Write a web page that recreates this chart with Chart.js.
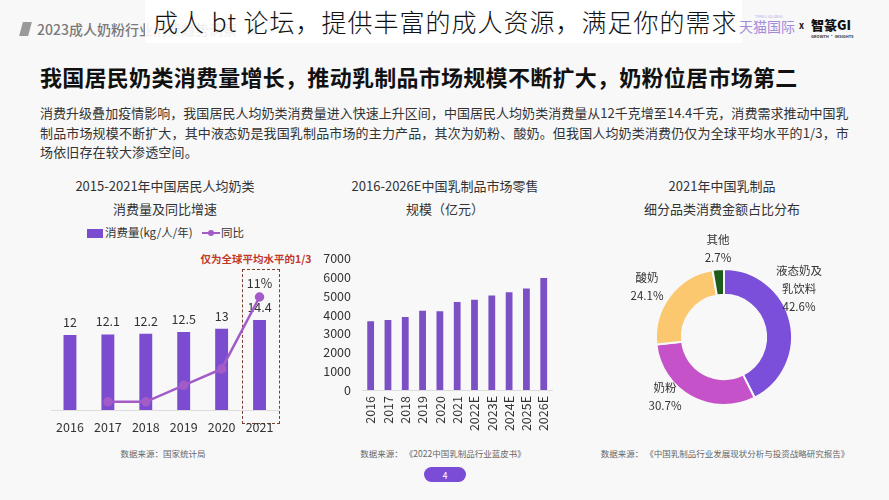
<!DOCTYPE html>
<html><head><meta charset="utf-8">
<script src="https://cdn.jsdelivr.net/npm/chart.js@4.4.0/dist/chart.umd.min.js"></script>
<style>
html,body{margin:0;padding:0;}
body{width:889px;height:500px;background:#f8f8f9;position:relative;overflow:hidden;font-family:"Noto Sans CJK SC","Noto Sans",sans-serif;color:#333;}
.t{position:absolute;white-space:nowrap;line-height:1;transform:translate(-50%,-50%);}
.l{position:absolute;white-space:nowrap;line-height:1;transform:translate(0,-50%);}
.cv{position:absolute;}
.ttl{font-size:13px;color:#333;}
.src{font-size:8.5px;color:#666;}
.dl{font-size:11.5px;color:#333;text-align:center;line-height:18px;}
</style></head>
<body>
<!-- header -->
<div style="position:absolute;left:21px;top:22px;width:9px;height:14px;background:#9a9a9a;transform:skewX(-15deg);"></div>
<div class="l" style="left:37px;top:29px;font-size:14px;color:#7a7a7a;font-weight:500;">2023成人奶粉行业消费趋势洞察</div>
<div style="position:absolute;left:248px;top:23px;width:8px;height:12px;background:#aaa;"></div>
<div style="position:absolute;left:145px;top:0;width:597px;height:43px;background:rgba(255,255,255,0.88);"></div>
<div class="l" style="left:153px;top:21px;font-size:25px;color:#111;font-weight:300;letter-spacing:1px;">成人 bt 论坛，提供丰富的成人资源，满足你的需求</div>
<div class="l" style="left:755px;top:16px;font-size:4px;color:#b9a7e0;">TMALL GLOBAL</div>
<div class="l" style="left:739px;top:26px;font-size:14px;color:#a38bd9;">天猫国际</div>
<div class="l" style="left:799px;top:25px;font-size:9px;color:#111;font-weight:700;">x</div>
<div class="l" style="left:811px;top:24px;font-size:13px;color:#111;font-weight:900;">智篆GI</div>
<div class="l" style="left:811px;top:36px;font-size:4px;color:#333;font-weight:700;">GROWTH · INSIGHTS</div>

<!-- title -->
<div class="l" id="mainTitle" style="left:40px;top:76px;font-size:22px;color:#111;font-weight:700;letter-spacing:0.28px;">我国居民奶类消费量增长，推动乳制品市场规模不断扩大，奶粉位居市场第二</div>
<div class="l" style="left:40px;top:112px;font-size:13px;color:#333;letter-spacing:0.03px;">消费升级叠加疫情影响，我国居民人均奶类消费量进入快速上升区间，中国居民人均奶类消费量从12千克增至14.4千克，消费需求推动中国乳</div>
<div class="l" style="left:40px;top:132px;font-size:13px;color:#333;letter-spacing:0.15px;">制品市场规模不断扩大，其中液态奶是我国乳制品市场的主力产品，其次为奶粉、酸奶。但我国人均奶类消费仍仅为全球平均水平的1/3，市</div>
<div class="l" style="left:40px;top:151px;font-size:13px;color:#333;letter-spacing:0.15px;">场依旧存在较大渗透空间。</div>

<!-- chart titles -->
<div class="t ttl" style="left:165px;top:185px;">2015-2021年中国居民人均奶类</div>
<div class="t ttl" style="left:165px;top:208px;">消费量及同比增速</div>
<div class="t ttl" style="left:445px;top:185px;">2016-2026E中国乳制品市场零售</div>
<div class="t ttl" style="left:445px;top:208px;">规模（亿元）</div>
<div class="t ttl" style="left:722px;top:185px;">2021年中国乳制品</div>
<div class="t ttl" style="left:722px;top:208px;">细分品类消费金额占比分布</div>

<!-- left legend -->
<div style="position:absolute;left:87px;top:229px;width:16px;height:9px;background:#7b4cd0;"></div>
<div class="l" style="left:105px;top:233px;font-size:11.5px;color:#333;">消费量(kg/人/年)</div>
<div style="position:absolute;left:202px;top:232px;width:18px;height:2px;background:#a35bc8;"></div>
<div style="position:absolute;left:208px;top:230px;width:6px;height:6px;border-radius:50%;background:#a35bc8;"></div>
<div class="l" style="left:221px;top:233px;font-size:11.5px;color:#333;">同比</div>

<!-- annotation -->
<div class="t" style="left:256px;top:259px;font-size:10.5px;color:#c0392b;font-weight:700;">仅为全球平均水平的1/3</div>
<div style="position:absolute;left:242px;top:269px;width:36px;height:153px;border:1.5px dashed #7a4030;"></div>

<canvas id="c1" class="cv" width="240" height="200" style="left:45px;top:240px;"></canvas>
<canvas id="c2" class="cv" width="250" height="200" style="left:315px;top:240px;"></canvas>
<canvas id="c3" class="cv" width="160" height="160" style="left:644px;top:257px;"></canvas>

<div id="donutLabels"></div>

<!-- sources -->
<div class="t src" style="left:163px;top:453px;">数据来源：国家统计局</div>
<div class="t src" style="left:443px;top:453px;">数据来源：&nbsp;《2022中国乳制品行业蓝皮书》</div>
<div class="t src" style="left:725px;top:453px;">数据来源：&nbsp;《中国乳制品行业发展现状分析与投资战略研究报告》</div>

<div style="position:absolute;left:424px;top:467px;width:42px;height:15px;border-radius:8px;background:#7b4cd6;"></div>
<div class="t" style="left:445px;top:474.5px;font-size:9px;color:#fff;">4</div>

<script>
// ---------- data ----------
const consumptionYears = ['2016','2017','2018','2019','2020','2021'];
const consumptionKg = [12, 12.1, 12.2, 12.5, 13, 14.4];
const yoyGrowthPct = [null, 0.8, 0.8, 2.4, 4.0, 11];

const marketYears = ['2016','2017','2018','2019','2020','2021','2022E','2023E','2024E','2025E','2026E'];
const marketSize = [3660, 3720, 3880, 4220, 4190, 4690, 4800, 5030, 5200, 5400, 5960];
const marketTicks = [0, 1000, 2000, 3000, 4000, 5000, 6000, 7000];

const segmentNames = ['液态奶及\n乳饮料', '奶粉', '酸奶', '其他'];
const segmentShares = [42.6, 30.7, 24.1, 2.7];

// ---------- styles ----------
const FONT = '"Noto Sans CJK SC","Noto Sans",sans-serif';
const BAR_COLOR = '#7b4cd0';
const LINE_COLOR = '#a35bc8';
const SEG_COLORS = ['#7b4fd9', '#c552c8', '#fbc870', '#1d5c1c'];
const BG = '#f8f8f9';

const valueLabels = {
  id: 'valueLabels',
  afterDatasetDraw(chart, args, opts) {
    const cfg = opts.sets && opts.sets[args.index];
    if (!cfg) return;
    const ctx = chart.ctx;
    const data = chart.data.datasets[args.index].data;
    ctx.save();
    ctx.font = cfg.font;
    ctx.fillStyle = '#333';
    ctx.textAlign = 'center';
    ctx.textBaseline = 'middle';
    args.meta.data.forEach((el, i) => {
      const v = data[i];
      if (v == null) return;
      const txt = cfg.format(v, i, data.length);
      if (!txt) return;
      ctx.fillText(txt, el.x, el.y - cfg.offset);
    });
    ctx.restore();
  }
};

new Chart(document.getElementById('c1'), {
  type: 'bar',
  data: {
    labels: consumptionYears,
    datasets: [
      { type: 'bar', label: '消费量(kg/人/年)', data: consumptionKg, backgroundColor: BAR_COLOR,
        yAxisID: 'y', order: 2, barPercentage: 0.85, categoryPercentage: 0.4 },
      { type: 'line', label: '同比', data: yoyGrowthPct, borderColor: LINE_COLOR, backgroundColor: LINE_COLOR,
        borderWidth: 2.5, pointRadius: 3.5, pointHoverRadius: 3.5, tension: 0, yAxisID: 'y1', order: 1, spanGaps: false }
    ]
  },
  options: {
    responsive: false, animation: false,
    layout: { padding: { left: 5.5, right: 6.5, top: 20, bottom: 0 } },
    plugins: {
      legend: { display: false }, tooltip: { enabled: false },
      valueLabels: { sets: {
        0: { font: '12.5px ' + FONT, offset: 13, format: v => String(v) },
        1: { font: '12.5px ' + FONT, offset: 14, format: (v, i, n) => i === n - 1 ? Math.round(v) + '%' : '' }
      } }
    },
    scales: {
      x: { grid: { display: false, drawTicks: false }, border: { display: true, color: '#dcdcdc' },
           ticks: { color: '#333', font: { family: FONT, size: 12.5 }, padding: 10 },
           afterFit: s => { s.height = 30; } },
      y: { display: false, min: 0, max: 24 },
      y1: { display: false, min: 0, max: 14.6 }
    }
  },
  plugins: [valueLabels]
});

new Chart(document.getElementById('c2'), {
  type: 'bar',
  data: {
    labels: marketYears,
    datasets: [{ label: '零售规模（亿元）', data: marketSize, backgroundColor: '#7b50c4',
      barPercentage: 0.8, categoryPercentage: 0.49 }]
  },
  options: {
    responsive: false, animation: false,
    layout: { padding: { left: 0, right: 6, top: 14, bottom: 0 } },
    plugins: { legend: { display: false }, tooltip: { enabled: false } },
    scales: {
      x: { grid: { display: false, drawTicks: false }, border: { display: true, color: '#dcdcdc' },
           ticks: { color: '#333', font: { family: FONT, size: 12.5 }, padding: 6, minRotation: 90, maxRotation: 90, autoSkip: false },
           afterFit: s => { s.height = 50; } },
      y: { min: 0, max: 7000, grid: { display: false, drawTicks: false }, border: { display: false },
           afterBuildTicks: s => { s.ticks = marketTicks.map(v => ({ value: v })); },
           ticks: { color: '#333', font: { family: FONT, size: 12.5 }, padding: 11, callback: v => String(v) },
           afterFit: s => { s.width = 47; } }
    }
  }
});

new Chart(document.getElementById('c3'), {
  type: 'doughnut',
  data: {
    labels: segmentNames.map(n => n.replace('\n', '')),
    datasets: [{ data: segmentShares, backgroundColor: SEG_COLORS, borderColor: BG, borderWidth: 2 }]
  },
  options: {
    responsive: false, animation: false, cutout: '62%',
    layout: { padding: 11 },
    plugins: { legend: { display: false }, tooltip: { enabled: false } }
  }
});

// donut labels (text from data arrays)
const labelSpots = [ [799, 288], [665, 396], [647, 286], [718, 248] ];
const holder = document.getElementById('donutLabels');
segmentNames.forEach((n, i) => {
  const d = document.createElement('div');
  d.className = 't dl';
  d.style.left = labelSpots[i][0] + 'px';
  d.style.top = labelSpots[i][1] + 'px';
  d.innerHTML = n.split('\n').join('<br>') + '<br>' + segmentShares[i].toFixed(1) + '%';
  holder.appendChild(d);
});
</script>
</body></html>
